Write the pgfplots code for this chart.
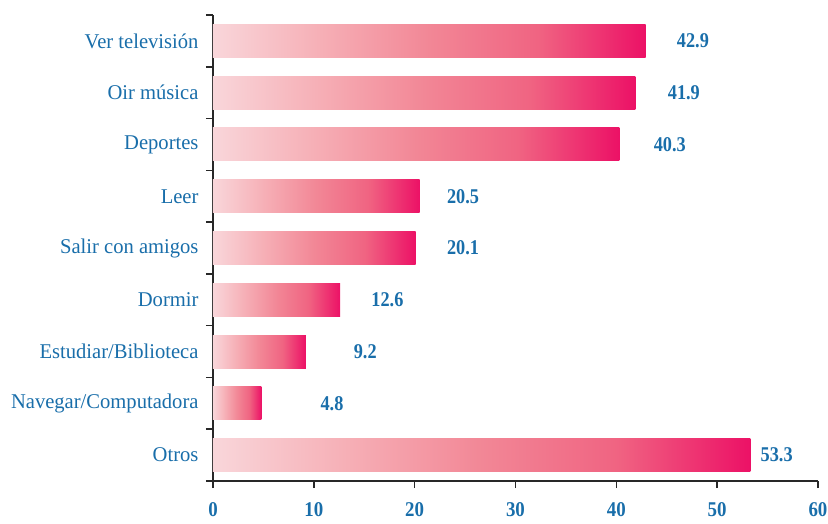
\documentclass[border=0pt]{standalone}
\usepackage{pgfplots}
\pgfplotsset{compat=1.18}
\usepackage{pgfplotstable}
\usepackage{fontspec}
\setmainfont{Liberation Serif}[FakeStretch=0.98]
\newfontfamily\valfont{Liberation Serif}[FakeStretch=0.87]
\newfontfamily\tickfont{Liberation Serif}[FakeStretch=0.9]
\definecolor{txtblue}{RGB}{25,110,170}
\definecolor{barL}{RGB}{249,214,218}
\definecolor{barA}{RGB}{246,175,182}
\definecolor{barM}{RGB}{242,135,150}
\definecolor{barB}{RGB}{240,100,130}
\definecolor{barR}{RGB}{236,17,102}
\definecolor{axgray}{RGB}{40,40,40}
\pgfdeclarehorizontalshading{barshade}{100bp}{color(0bp)=(barL); color(25bp)=(barL); color(37.5bp)=(barA); color(50bp)=(barM); color(62.5bp)=(barB); color(75bp)=(barR); color(100bp)=(barR)}
\newcommand\tl[1]{{\fontsize{21bp}{21bp}\tickfont\bfseries #1}}

\pgfplotstableread{
y val lx lab
0 42.9 47.6 42.9
1 41.9 46.7 41.9
2 40.3 45.3 40.3
3 20.5 24.8 20.5
4 20.1 24.8 20.1
5 12.6 17.3 12.6
6 9.2 15.1 9.2
7 4.8 11.8 4.8
8 53.3 55.9 53.3
}\data

\begin{document}
\begin{tikzpicture}
\useasboundingbox (-213bp,-43bp) rectangle (615bp,481bp);
\begin{axis}[
  at={(0,0)}, anchor=south west,
  scale only axis,
  width=605bp, height=466bp,
  xmin=0, xmax=60,
  ymin=-0.5, ymax=8.5,
  y dir=reverse,
  clip=false,
  axis lines*=left,
  axis line style={draw=axgray, line width=1.6bp},
  xtick={0,10,...,60},
  xticklabels={\tl{0},\tl{10},\tl{20},\tl{30},\tl{40},\tl{50},\tl{60}},
  ytick={0,...,8},
  yticklabels={Ver televisión,Oir música,Deportes,Leer,Salir con amigos,Dormir,Estudiar/Biblioteca,Navegar/Computadora,Otros},
  tick align=outside,
  x tick style={draw=axgray, line width=1.6bp},
  major tick length=7bp,
  y tick style={draw=none},
  extra y ticks={-0.5,0.5,...,8.5},
  extra y tick labels={},
  extra y tick style={y tick style={draw=axgray, line width=1.6bp}, major tick length=7bp},
  xticklabel style={text=txtblue, yshift=-13bp, inner sep=1bp},
  yticklabel style={font=\fontsize{21bp}{21bp}\selectfont, text=txtblue, xshift=-4bp},
  mybar/.style={xbar, bar width=33bp, bar shift=0pt, draw=none, shade, shading=barshade},
]
\addplot[mybar] coordinates {(42.9,0)};
\addplot[mybar] coordinates {(41.9,1)};
\addplot[mybar] coordinates {(40.3,2)};
\addplot[mybar] coordinates {(20.5,3)};
\addplot[mybar] coordinates {(20.1,4)};
\addplot[mybar] coordinates {(12.6,5)};
\addplot[mybar] coordinates {(9.2,6)};
\addplot[mybar] coordinates {(4.8,7)};
\addplot[mybar] coordinates {(53.3,8)};
\addplot[draw=none, mark=none, nodes near coords, point meta=explicit symbolic,
  every node near coord/.append style={anchor=center, font=\valfont\bfseries\fontsize{21bp}{21bp}\selectfont, text=txtblue}]
  table[x=lx, y=y, meta=lab] {\data};
\end{axis}
\end{tikzpicture}
\end{document}
